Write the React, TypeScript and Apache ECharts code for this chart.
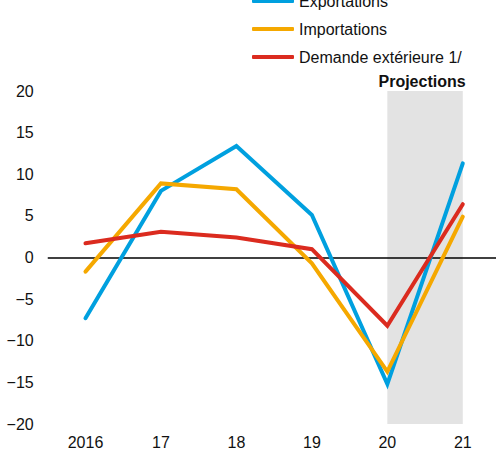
import React, { useEffect, useRef } from "react";
import * as echarts from "echarts";

const categories = ["2016", "17", "18", "19", "20", "21"];
const exportations = [-7.3, 8.0, 13.4, 5.1, -15.2, 11.3];
const importations = [-1.7, 8.9, 8.2, -0.7, -13.7, 4.9];
const demandeExterieure = [1.7, 3.1, 2.4, 1.0, -8.2, 6.4];
const seriesNames = ["Exportations", "Importations", "Demande extérieure 1/"];
const projectionStart = "20";
const projectionEnd = "21";
const projectionLabel = "Projections";

const FONT = "'Liberation Sans', Arial, sans-serif";

export default function App() {
  const ref = useRef<HTMLDivElement>(null);
  useEffect(() => {
    if (!ref.current) return;
    const chart = echarts.init(ref.current, undefined, { renderer: "svg" });
    const toPairs = (data: number[]) => data.map((v, i) => [i, v]);
    const lineSeries = (name: string, data: number[], color: string, extra: any = {}) => ({
      name,
      type: "line",
      data: toPairs(data),
      symbol: "none",
      color,
      lineStyle: { color, width: 4, cap: "round", join: "miter" },
      z: 3,
      ...extra,
    });
    chart.setOption({
      animation: false,
      textStyle: { fontFamily: FONT },
      legend: {
        orient: "vertical",
        left: 252,
        top: -7,
        padding: 0,
        itemWidth: 42,
        itemHeight: 4,
        itemGap: 12,
        icon: "roundRect",
        data: seriesNames,
        textStyle: { fontSize: 16, color: "#111", lineHeight: 16, fontFamily: FONT },
      },
      grid: { left: 47.75, top: 91, right: 0, height: 333, containLabel: false },
      xAxis: {
        type: "value",
        min: -0.5,
        max: 5.44,
        axisLine: { show: false, onZero: false },
        axisTick: { show: false },
        splitLine: { show: false },
        axisLabel: {
          fontSize: 16,
          color: "#111",
          margin: 10,
          fontFamily: FONT,
          customValues: categories.map((_, i) => i),
          formatter: (v: number) => categories[Math.round(v)] ?? "",
        },
      },
      yAxis: {
        type: "value",
        min: -20,
        max: 20,
        interval: 5,
        axisLine: { show: false },
        axisTick: { show: false },
        splitLine: { show: false },
        axisLabel: {
          fontSize: 16,
          color: "#111",
          margin: 14,
          fontFamily: FONT,
          formatter: (v: number) => String(v).replace("-", "\u2212"),
        },
      },
      series: [
        lineSeries(seriesNames[0], exportations, "#00A0DF", {
          markArea: {
            silent: true,
            itemStyle: { color: "#E3E3E3" },
            label: {
              show: true,
              position: "top",
              distance: 2,
              offset: [-3, 0],
              fontSize: 16,
              fontWeight: "bold",
              color: "#111",
              fontFamily: FONT,
            },
            data: [
              [
                { name: projectionLabel, xAxis: categories.indexOf(projectionStart), yAxis: 20 },
                { xAxis: categories.indexOf(projectionEnd), yAxis: -20 },
              ],
            ],
          },
          markLine: {
            silent: true,
            symbol: "none",
            label: { show: false },
            lineStyle: { color: "#000", width: 1.5, type: "solid" },
            data: [{ yAxis: 0 }],
            z: 2,
          },
        }),
        lineSeries(seriesNames[1], importations, "#F5A800"),
        lineSeries(seriesNames[2], demandeExterieure, "#DB2B1F"),
      ],
    });
    return () => chart.dispose();
  }, []);
  return (
    <div
      ref={ref}
      style={{ position: "absolute", left: 0, top: 0, width: 496, height: 451, background: "#fff" }}
    />
  );
}
